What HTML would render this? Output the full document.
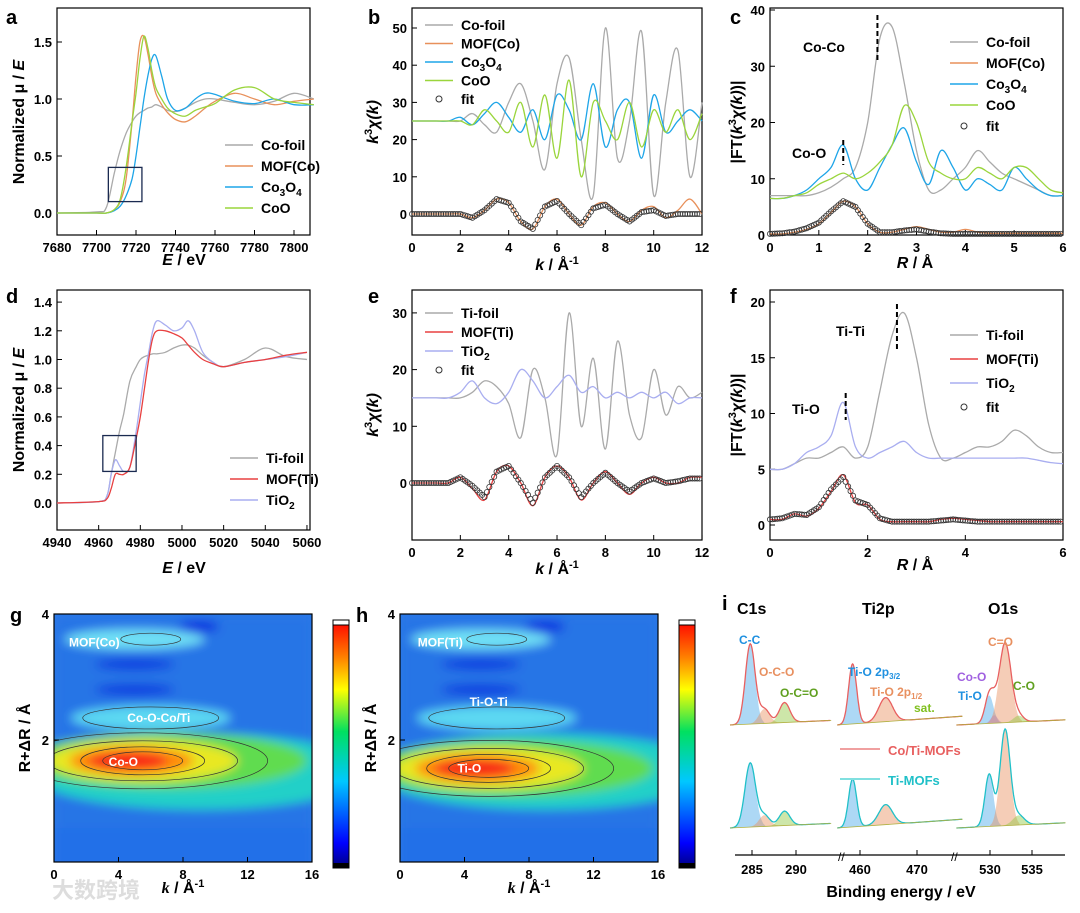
<!DOCTYPE html>
<html><head><meta charset="utf-8">
<style>
html,body{margin:0;padding:0;background:#fff;}
svg{display:block;font-family:"Liberation Sans","Noto Sans CJK SC",sans-serif;}
.pl{font-size:20px;font-weight:bold;}
.tk{font-size:13px;font-weight:bold;}
.al{font-size:16px;font-weight:bold;}
.lg{font-size:14px;font-weight:bold;}
</style></head>
<body>
<svg id="fig" width="1080" height="913" viewBox="0 0 1080 913">
<defs>
<linearGradient id="cbar" x1="0" y1="1" x2="0" y2="0">
<stop offset="0" stop-color="#000080"/><stop offset="0.1" stop-color="#0000ff"/><stop offset="0.35" stop-color="#00c8ff"/><stop offset="0.55" stop-color="#00e060"/><stop offset="0.72" stop-color="#ffff00"/><stop offset="0.85" stop-color="#ff8000"/><stop offset="1" stop-color="#ff0000"/>
</linearGradient>
<filter id="blur" x="-20%" y="-50%" width="140%" height="200%"><feGaussianBlur stdDeviation="5"/></filter>
<clipPath id="cg"><rect x="54" y="614" width="258" height="248"/></clipPath>
<clipPath id="ch"><rect x="400" y="614" width="258" height="248"/></clipPath>
</defs>
<g id="root"></g>
</svg>
<script>
// ---------------- data ----------------
const aE=[7680,7700,7705,7709,7712,7715,7718,7720,7722,7724,7726,7728,7730,7733,7736,7740,7745,7750,7755,7760,7770,7780,7790,7800,7810];
const aCoFoil=[0,0.01,0.05,0.35,0.55,0.7,0.8,0.85,0.88,0.9,0.92,0.93,0.95,0.93,0.9,0.89,0.92,0.97,1.0,1.0,0.97,0.95,0.98,1.05,1.0];
const aMOF=[0,0,0,0.03,0.1,0.3,0.8,1.2,1.5,1.55,1.4,1.2,1.05,0.95,0.88,0.82,0.8,0.85,0.92,0.98,1.05,1.0,0.95,0.98,1.0];
const aCo3O4=[0,0,0,0.02,0.06,0.15,0.3,0.5,0.75,1.0,1.2,1.35,1.38,1.2,1.0,0.9,0.92,1.0,1.05,1.04,0.98,0.96,1.0,0.95,0.95];
const aCoO=[0,0,0,0.03,0.12,0.4,0.8,1.05,1.35,1.55,1.45,1.25,1.1,1.0,0.92,0.87,0.85,0.9,0.93,0.96,1.08,1.1,1.0,0.97,0.95];

const kGrid=[0,0.5,1,1.5,2,2.5,3,3.5,4,4.5,5,5.5,6,6.5,7,7.5,8,8.5,9,9.5,10,10.5,11,11.5,12];
const bCoFoil=[25,25,25,25,25,27,24,22,30,35,25,12,35,42,20,5,50,15,25,49,5,30,44,10,30];
const bCo3O4=[25,25,25,25,26,24,27,30,26,22,28,20,32,28,20,35,18,28,30,15,32,22,25,28,25];
const bCoO=[25,25,25,25,25,24,28,25,22,30,18,32,15,36,10,30,25,20,30,18,28,22,28,20,27];
const bMOF=[0,0,0,0,0,-1,1,4,3,-2,-4,2,4,0,-3,2,3,0,-2,1,2,-1,1,4,0];
const bFit=[0,0,0,0,0,-1,1,4,3,-2,-4,2,3.5,0,-3,1.5,2.5,0,-2,0.5,1,-0.5,0,0,0];

const rGrid=[0,0.25,0.5,0.75,1,1.25,1.5,1.75,2,2.25,2.5,2.75,3,3.25,3.5,3.75,4,4.25,4.5,4.75,5,5.25,5.5,5.75,6];
const cCoFoil=[7,7,7,7,7.5,8.5,10,12,20,35,37,27,15,8,8,10,12,15,13,11,10,9,8,7,7];
const cMOF=[0.2,0.2,0.5,1,2,4,6,5,2,0.5,0.5,1,1.5,1,0.5,0.5,1,0.5,0.3,0.3,0.3,0.3,0.3,0.3,0.3];
const cCo3O4=[6.5,6.5,7,8,10,12,16,10,8,12,16,19,13,9,15,12,8,10,9,8,12,10,8,7,7];
const cCoO=[6.5,6.5,7,7.5,9,10,11,10,11,13,16,23,20,13,11,10,10,12,11,10,12,12,10,8,7.5];
const cFit=[0.2,0.3,0.6,1.2,2.2,4.2,6,5,2,0.5,0.5,0.8,1,0.6,0.3,0.2,0.2,0.2,0.2,0.2,0.2,0.2,0.2,0.2,0.2];

const dE=[4940,4960,4964,4966,4968,4970,4972,4975,4978,4980,4982,4984,4986,4988,4992,4996,5000,5003,5006,5010,5015,5020,5030,5040,5050,5060];
const dTiFoil=[0,0.01,0.05,0.2,0.35,0.5,0.62,0.85,0.95,1.0,1.02,1.03,1.04,1.04,1.05,1.08,1.1,1.1,1.08,1.03,0.98,0.95,1.0,1.08,1.02,1.0];
const dMOF=[0,0.01,0.03,0.1,0.2,0.2,0.2,0.25,0.45,0.6,0.8,1.0,1.15,1.2,1.2,1.18,1.15,1.1,1.05,1.0,0.97,0.95,0.98,1.0,1.03,1.05];
const dTiO2=[0,0.01,0.05,0.2,0.3,0.26,0.22,0.25,0.5,0.7,0.9,1.05,1.2,1.27,1.24,1.2,1.22,1.27,1.2,1.05,0.98,0.95,0.98,1.0,1.02,1.05];

const eTiFoil=[15,15,15,15,15,16,18,17,14,8,20,15,5,30,10,22,6,25,12,8,20,12,17,15,16];
const eTiO2=[15,15,15,15,16,18,15,14,16,20,18,15,17,19,16,17,15,16,15,16,15,16,14,15,15];
const eMOF=[0,0,0,0,1,-1,-3,2,3,0,-4,1,3,1,-3,0,2,0,-2,0,1,0,0,1,1];
const eFit=[0,0,0,0,1,-0.5,-2.5,2,3,0,-3.5,1,3,1,-2.5,0,1.8,0,-1.5,0,0.8,0,0.3,0.8,0.8];

const fTiFoil=[5,5,5.5,6,6,6.5,7,6,7,12,17,19,15,9,6,6,6.5,7,7,7.5,8.5,8,7,6.5,6.5];
const fTiO2=[5,5,5.5,6.5,7,8,11,7,6,6.5,7,7.5,6.5,6,6,6,6,6,6,6,6,6,5.8,5.6,5.5];
const fMOF=[0.5,0.5,1,0.8,1.5,3,4.5,2,1.8,0.5,0.3,0.3,0.3,0.3,0.5,0.6,0.5,0.4,0.3,0.3,0.3,0.3,0.3,0.3,0.3];
const fFit=[0.5,0.6,1,0.9,1.6,3.2,4.3,2.2,1.8,0.6,0.3,0.3,0.3,0.3,0.4,0.5,0.4,0.3,0.3,0.3,0.3,0.3,0.3,0.3,0.3];

// XPS peaks: [center, height, width]
const xC1sTop=[[284.8,1,0.55],[286.4,0.18,0.6],[288.7,0.25,0.6]];
const xC1sBot=[[284.8,0.8,0.6],[286.4,0.14,0.6],[288.7,0.18,0.6]];
const xTiTop=[[458.7,0.75,0.7],[464.5,0.3,1.2]];
const xTiBot=[[458.7,0.6,0.7],[464.5,0.25,1.2]];
const xO1Top=[[529.9,0.35,0.5],[530.5,0.1,0.4],[531.8,1.0,0.7],[533.4,0.08,0.6]];
const xO1Bot=[[529.9,0.65,0.5],[531.8,1.2,0.6],[533.4,0.12,0.7]];

// ---------------- helpers ----------------
const NS='http://www.w3.org/2000/svg';
const root=document.getElementById('root');
function el(tag,attrs,parent){const e=document.createElementNS(NS,tag);for(const k in attrs)e.setAttribute(k,attrs[k]);(parent||root).appendChild(e);return e;}
function txt(x,y,s,cls,extra,parent){const t=el('text',Object.assign({x:x,y:y,class:cls||''},extra||{}),parent);t.innerHTML=s;return t;}
function smooth(pts){let d='M'+pts[0][0].toFixed(1)+','+pts[0][1].toFixed(1);
 for(let i=0;i<pts.length-1;i++){const p0=pts[i-1]||pts[i],p1=pts[i],p2=pts[i+1],p3=pts[i+2]||p2;
  const c1=[p1[0]+(p2[0]-p0[0])/6,p1[1]+(p2[1]-p0[1])/6],c2=[p2[0]-(p3[0]-p1[0])/6,p2[1]-(p3[1]-p1[1])/6];
  d+=' C'+c1.map(v=>v.toFixed(1)).join(',')+' '+c2.map(v=>v.toFixed(1)).join(',')+' '+p2[0].toFixed(1)+','+p2[1].toFixed(1);}
 return d;}
function axes(name,fr,xs,ys,xt,yt,xfmt,yfmt){
 const g=el('g',{});
 
 
 el('rect',{x:fr[0],y:fr[1],width:fr[2]-fr[0],height:fr[3]-fr[1],fill:'none',stroke:'#000','stroke-width':1.2},g);
 xt.forEach(v=>{const x=xs(v);el('line',{x1:x,x2:x,y1:fr[3],y2:fr[3]-5,stroke:'#000'},g);
  const t=txt(x,fr[3]+17,xfmt(v),'tk',{'text-anchor':'middle'},g);});
 yt.forEach(v=>{const y=ys(v);el('line',{x1:fr[0],x2:fr[0]+5,y1:y,y2:y,stroke:'#000'},g);
  const t=txt(fr[0]-5,y+5,yfmt(v),'tk',{'text-anchor':'end'},g);});
 return g;}
function line(name,X,Y,xs,ys,color,w){const p=el('path',{d:smooth(X.map((x,i)=>[xs(x),ys(Y[i])])),fill:'none',stroke:color,'stroke-width':w||1.3});
 
 return p;}
function circles(name,X,Y,xs,ys){const g=el('g',{});
 
 
 for(let i=0;i<X.length-1;i++)for(let s=0;s<5;s++){const f=s/5,x=X[i]+(X[i+1]-X[i])*f,y=Y[i]+(Y[i+1]-Y[i])*f;
  el('circle',{cx:xs(x),cy:ys(y),r:2.6,fill:'none',stroke:'#333','stroke-width':0.8},g);}
 return g;}
function legend(x,y,items,dy){items.forEach((it,i)=>{const yy=y+i*dy;
 const g=el('g',{});
 if(it[1]==='o')el('circle',{cx:x+14,cy:yy-5,r:3,fill:'none',stroke:'#333'},g);else el('line',{x1:x,x2:x+28,y1:yy-5,y2:yy-5,stroke:it[1],'stroke-width':1.5},g);
 txt(x+36,yy,it[0],'lg',{},g);});}
const gray='#aaaaaa',orange='#e8905a',blue='#1ea5e8',green='#9ad53c',red='#e84040',lav='#a9aef0';

// ---------------- panel a ----------------
{const xs=v=>57+(v-7680)*237/120, ys=v=>213-v*114;
 axes('panel-a',[57,8,310,235],xs,ys,[7680,7700,7720,7740,7760,7780,7800],[0,0.5,1.0,1.5],v=>v,v=>v.toFixed(1));
 line('co-foil-xanes',aE,aCoFoil,xs,ys,gray);line('mof-co-xanes',aE,aMOF,xs,ys,orange);line('co3o4-xanes',aE,aCo3O4,xs,ys,blue);line('coo-xanes',aE,aCoO,xs,ys,green);
 el('rect',{x:xs(7706),y:ys(0.4),width:xs(7723)-xs(7706),height:ys(0.1)-ys(0.4),fill:'none',stroke:'#1a2a50','stroke-width':1.3});
 legend(225,150,[['Co-foil',gray],['MOF(Co)',orange],['Co<tspan dy="4" font-size="10">3</tspan><tspan dy="-4">O</tspan><tspan dy="4" font-size="10">4</tspan>',blue],['CoO',green]],21);
 txt(6,24,'a','pl');txt(184,265,'<tspan font-style="italic">E</tspan> / eV','al',{'text-anchor':'middle'});
 txt(24,122,'Normalized μ / <tspan font-style="italic">E</tspan>','al',{'text-anchor':'middle',transform:'rotate(-90 24 122)'});}
// ---------------- panel b ----------------
{const xs=v=>412+v*24.17, ys=v=>214-v*3.72;
 axes('panel-b',[412,8,702,235],xs,ys,[0,2,4,6,8,10,12],[0,10,20,30,40,50],v=>v,v=>v);
 line('co-foil-exafs',kGrid,bCoFoil,xs,ys,gray);line('co3o4-exafs',kGrid,bCo3O4,xs,ys,blue);line('coo-exafs',kGrid,bCoO,xs,ys,green);
 line('mof-co-exafs',kGrid,bMOF,xs,ys,orange);circles('fit-b',kGrid,bFit,xs,ys);
 legend(425,30,[['Co-foil',gray],['MOF(Co)',orange],['Co<tspan dy="4" font-size="10">3</tspan><tspan dy="-4">O</tspan><tspan dy="4" font-size="10">4</tspan>',blue],['CoO',green],['fit','o']],18.5);
 txt(368,24,'b','pl');txt(557,270,'<tspan font-style="italic">k</tspan> / Å<tspan dy="-6" font-size="11">-1</tspan>','al',{'text-anchor':'middle'});
 txt(378,122,'<tspan font-style="italic">k</tspan><tspan dy="-6" font-size="11">3</tspan><tspan dy="6" font-style="italic">χ(k)</tspan>','al',{'text-anchor':'middle',transform:'rotate(-90 378 122)'});}
// ---------------- panel c ----------------
{const xs=v=>770+v*48.83, ys=v=>235-v*5.625;
 axes('panel-c',[770,8,1063,235],xs,ys,[0,1,2,3,4,5,6],[0,10,20,30,40],v=>v,v=>v);
 line('co-foil-ft',rGrid,cCoFoil,xs,ys,gray);line('co3o4-ft',rGrid,cCo3O4,xs,ys,blue);line('coo-ft',rGrid,cCoO,xs,ys,green);
 line('mof-co-ft',rGrid,cMOF,xs,ys,orange);circles('fit-c',rGrid,cFit,xs,ys);
 el('line',{x1:xs(2.2),x2:xs(2.2),y1:15,y2:62,stroke:'#000','stroke-width':2,'stroke-dasharray':'5,3'});
 el('line',{x1:xs(1.5),x2:xs(1.5),y1:140,y2:165,stroke:'#000','stroke-width':2,'stroke-dasharray':'5,3'});
 txt(803,52,'Co-Co','lg',{'font-size':'16'});txt(792,158,'Co-O','lg',{'font-size':'16'});
 legend(950,47,[['Co-foil',gray],['MOF(Co)',orange],['Co<tspan dy="4" font-size="10">3</tspan><tspan dy="-4">O</tspan><tspan dy="4" font-size="10">4</tspan>',blue],['CoO',green],['fit','o']],21);
 txt(730,24,'c','pl');txt(915,268,'<tspan font-style="italic">R</tspan> / Å','al',{'text-anchor':'middle'});
 txt(742,122,'|FT(<tspan font-style="italic">k</tspan><tspan dy="-6" font-size="11">3</tspan><tspan dy="6" font-style="italic">χ(k)</tspan>)|','al',{'text-anchor':'middle',transform:'rotate(-90 742 122)'});}
// ---------------- panel d ----------------
{const xs=v=>57+(v-4940)*2.083, ys=v=>503-v*143.5;
 axes('panel-d',[57,290,310,530],xs,ys,[4940,4960,4980,5000,5020,5040,5060],[0,0.2,0.4,0.6,0.8,1.0,1.2,1.4],v=>v,v=>v.toFixed(1));
 line('ti-foil-xanes',dE,dTiFoil,xs,ys,gray);line('tio2-xanes',dE,dTiO2,xs,ys,lav);line('mof-ti-xanes',dE,dMOF,xs,ys,red);
 el('rect',{x:xs(4962),y:ys(0.47),width:xs(4978)-xs(4962),height:ys(0.22)-ys(0.47),fill:'none',stroke:'#1a2a50','stroke-width':1.3});
 legend(230,463,[['Ti-foil',gray],['MOF(Ti)',red],['TiO<tspan dy="4" font-size="10">2</tspan>',lav]],21);
 txt(6,303,'d','pl');txt(184,573,'<tspan font-style="italic">E</tspan> / eV','al',{'text-anchor':'middle'});
 txt(24,410,'Normalized μ / <tspan font-style="italic">E</tspan>','al',{'text-anchor':'middle',transform:'rotate(-90 24 410)'});}
// ---------------- panel e ----------------
{const xs=v=>412+v*24.17, ys=v=>483-v*5.67;
 axes('panel-e',[412,290,702,540],xs,ys,[0,2,4,6,8,10,12],[0,10,20,30],v=>v,v=>v);
 line('ti-foil-exafs',kGrid,eTiFoil,xs,ys,gray);line('tio2-exafs',kGrid,eTiO2,xs,ys,lav);
 line('mof-ti-exafs',kGrid,eMOF,xs,ys,red);circles('fit-e',kGrid,eFit,xs,ys);
 legend(425,318,[['Ti-foil',gray],['MOF(Ti)',red],['TiO<tspan dy="4" font-size="10">2</tspan>',lav],['fit','o']],19);
 txt(368,303,'e','pl');txt(557,574,'<tspan font-style="italic">k</tspan> / Å<tspan dy="-6" font-size="11">-1</tspan>','al',{'text-anchor':'middle'});
 txt(378,415,'<tspan font-style="italic">k</tspan><tspan dy="-6" font-size="11">3</tspan><tspan dy="6" font-style="italic">χ(k)</tspan>','al',{'text-anchor':'middle',transform:'rotate(-90 378 415)'});}
// ---------------- panel f ----------------
{const xs=v=>770+v*48.83, ys=v=>525-v*11.15;
 axes('panel-f',[770,290,1063,540],xs,ys,[0,2,4,6],[0,5,10,15,20],v=>v,v=>v);
 line('ti-foil-ft',rGrid,fTiFoil,xs,ys,gray);line('tio2-ft',rGrid,fTiO2,xs,ys,lav);
 line('mof-ti-ft',rGrid,fMOF,xs,ys,red);circles('fit-f',rGrid,fFit,xs,ys);
 el('line',{x1:xs(2.6),x2:xs(2.6),y1:304,y2:350,stroke:'#000','stroke-width':2,'stroke-dasharray':'5,3'});
 el('line',{x1:xs(1.55),x2:xs(1.55),y1:393,y2:420,stroke:'#000','stroke-width':2,'stroke-dasharray':'5,3'});
 txt(836,336,'Ti-Ti','lg',{'font-size':'16'});txt(792,414,'Ti-O','lg',{'font-size':'16'});
 legend(950,340,[['Ti-foil',gray],['MOF(Ti)',red],['TiO<tspan dy="4" font-size="10">2</tspan>',lav],['fit','o']],24);
 txt(730,303,'f','pl');txt(915,570,'<tspan font-style="italic">R</tspan> / Å','al',{'text-anchor':'middle'});
 txt(742,415,'|FT(<tspan font-style="italic">k</tspan><tspan dy="-6" font-size="11">3</tspan><tspan dy="6" font-style="italic">χ(k)</tspan>)|','al',{'text-anchor':'middle',transform:'rotate(-90 742 415)'});}
// ---------------- wavelet panels ----------------
function wavelet(name,x0,letter,labels,clip,peakR){
 const xs=v=>x0+v*258/16, ys=v=>614+(4-v)*63;
 const g=el('g',{'clip-path':'url(#'+clip+')'});
 
 
 el('rect',{x:x0,y:614,width:258,height:248,fill:'#2a7ae8'},g);
 const gb=el('g',{filter:'url(#blur)'},g);
 el('rect',{x:x0,y:614,width:258,height:248,fill:'#2874e6'},gb);
 el('ellipse',{cx:xs(5),cy:ys(3.6),rx:70,ry:10,fill:'#6fe0f5'},gb);
 el('ellipse',{cx:xs(9),cy:ys(3.8),rx:20,ry:6,fill:'#0a30e0'},gb);
 el('ellipse',{cx:xs(5),cy:ys(3.2),rx:40,ry:6,fill:'#1040e0'},gb);
 el('ellipse',{cx:xs(5),cy:ys(2.8),rx:40,ry:6,fill:'#1040e0'},gb);
 el('ellipse',{cx:xs(6),cy:ys(2.35),rx:80,ry:12,fill:'#5cd8f2'},gb);
 el('ellipse',{cx:xs(9),cy:ys(1.5),rx:170,ry:38,fill:'#20d0c8'},gb);
 el('ellipse',{cx:xs(7),cy:ys(peakR),rx:140,ry:28,fill:'#60dc50'},gb);
 el('ellipse',{cx:xs(5.5),cy:ys(peakR),rx:95,ry:21,fill:'#e8e820'},gb);
 el('ellipse',{cx:xs(4.8),cy:ys(peakR),rx:62,ry:14,fill:'#ff8a10'},gb);
 el('ellipse',{cx:xs(4.6),cy:ys(peakR),rx:40,ry:9,fill:'#f82818'},gb);
 el('rect',{x:x0,y:ys(0.6),width:258,height:60,fill:'#2070e8'},gb);
 [[125,28],[95,20],[62,14],[40,9]].forEach(r=>el('ellipse',{cx:xs(5.5),cy:ys(peakR),rx:r[0],ry:r[1],fill:'none',stroke:'#333','stroke-width':0.7},g));
 el('ellipse',{cx:xs(6),cy:ys(2.35),rx:68,ry:11,fill:'none',stroke:'#333','stroke-width':0.7},g);
 el('ellipse',{cx:xs(6),cy:ys(3.6),rx:30,ry:6,fill:'none',stroke:'#333','stroke-width':0.7},g);
 labels.forEach(l=>txt(xs(l[1]),ys(l[2])+4,l[0],'',{'font-size':'12','font-weight':'bold',fill:'#fff','text-anchor':'middle'},g));
 axes(name,[x0,614,x0+258,862],xs,ys,[0,4,8,12,16],[2,4],v=>v,v=>v);
 const cb=el('g',{});
 el('rect',{x:x0+279,y:620,width:16,height:248,fill:'url(#cbar)',stroke:'#000'},cb);
 el('rect',{x:x0+279,y:620,width:16,height:5,fill:'#fff',stroke:'#000'},cb);
 el('rect',{x:x0+279,y:863,width:16,height:5,fill:'#000'},cb);
 txt(x0-44,622,letter,'pl');
 txt(x0+129,893,'<tspan font-style="italic" font-family="Liberation Serif">k</tspan> / Å<tspan dy="-6" font-size="11">-1</tspan>','al',{'text-anchor':'middle'});
 txt(x0-24,738,'R+ΔR / Å','al',{'text-anchor':'middle',transform:'rotate(-90 '+(x0-24)+' 738)'});}
wavelet('panel-g',54,'g',[['MOF(Co)',2.5,3.55],['Co-O-Co/Ti',6.5,2.35],['Co-O',4.3,1.65]],'cg',1.67);
wavelet('panel-h',400,'h',[['MOF(Ti)',2.5,3.55],['Ti-O-Ti',5.5,2.6],['Ti-O',4.3,1.55]],'ch',1.55);
// ---------------- panel i (XPS) ----------------
{const regions=[{n:'c1s',x0:752,s:8.8,c0:285,lo:282.5,hi:294,top:xC1sTop,bot:xC1sBot},
  {n:'ti2p',x0:860,s:5.7,c0:460,lo:456,hi:478,top:xTiTop,bot:xTiBot},
  {n:'o1s',x0:990,s:8.4,c0:530,lo:526,hi:539,top:xO1Top,bot:xO1Bot}];
 const fill=['#4aa8e8','#e89060','#90c840','#b080e0'];
 regions.forEach(r=>{const xs=v=>r.x0+(v-r.c0)*r.s;
  [[r.top,725,'#e86060',80],[r.bot,828,'#20c0c8',80]].forEach(([pk,base,col,H])=>{
   const xsam=[];for(let v=r.lo;v<=r.hi;v+=0.1)xsam.push(v);
   const bl=v=>base-(v-r.lo)*0.4;
   pk.forEach((p,i)=>{const pts=xsam.filter(v=>Math.abs(v-p[0])<3*p[2]);
    let d='M'+xs(pts[0])+','+bl(pts[0]);pts.forEach(v=>{d+=' L'+xs(v).toFixed(1)+','+(bl(v)-H*p[1]*Math.exp(-((v-p[0])**2)/(2*p[2]*p[2]))).toFixed(1);});
    d+=' L'+xs(pts[pts.length-1])+','+bl(pts[pts.length-1])+' Z';
    let ci=i;if(r.n==='o1s'){ci=pk.length===4?[0,3,1,2][i]:[0,1,2][i];}
    const f=el('path',{d:d,fill:fill[ci],'fill-opacity':0.45,stroke:'none'});
    });
   const pts=xsam.map(v=>[xs(v),bl(v)-H*pk.reduce((s,p)=>s+p[1]*Math.exp(-((v-p[0])**2)/(2*p[2]*p[2])),0)]);
   const p=el('path',{d:'M'+pts.map(q=>q[0].toFixed(1)+','+q[1].toFixed(1)).join(' L'),fill:'none',stroke:col,'stroke-width':1.3});
   
   el('line',{x1:xs(r.lo),x2:xs(r.hi),y1:bl(r.lo),y2:bl(r.hi),stroke:'#b0b040','stroke-width':0.8});});});
 const ax=el('g',{});
 el('line',{x1:735,x2:1065,y1:855,y2:855,stroke:'#000','stroke-width':1.2},ax);
 [[752,'285'],[796,'290'],[860,'460'],[917,'470'],[990,'530'],[1032,'535']].forEach(t=>{el('line',{x1:t[0],x2:t[0],y1:855,y2:850,stroke:'#000'},ax);txt(t[0],874,t[1],'tk',{'text-anchor':'middle','font-size':'15'},ax);});
 txt(838,861,'//','',{'font-size':'12'});txt(951,861,'//','',{'font-size':'12'});
 txt(901,897,'Binding energy / eV','al',{'text-anchor':'middle'});
 txt(722,610,'i','pl');
 txt(737,614,'C1s','al',{'font-size':'17'});txt(862,614,'Ti2p','al',{'font-size':'17'});txt(988,614,'O1s','al',{'font-size':'17'});
 const L=(x,y,s,c)=>txt(x,y,s,'',{'font-size':'12','font-weight':'bold',fill:c});
 L(739,644,'C-C','#1e90e0');L(759,676,'O-C-O','#e89060');L(780,697,'O-C=O','#60a020');
 L(848,676,'Ti-O 2p<tspan dy="3" font-size="8">3/2</tspan>','#1e90e0');L(870,696,'Ti-O 2p<tspan dy="3" font-size="8">1/2</tspan>','#e89060');L(914,712,'sat.','#80c020');
 L(988,646,'C=O','#e89060');L(957,681,'Co-O','#a060e0');L(958,700,'Ti-O','#1e90e0');L(1013,690,'C-O','#60a020');
 el('line',{x1:840,x2:880,y1:749,y2:749,stroke:'#f0a0a0','stroke-width':2});txt(888,755,'Co/Ti-MOFs','',{'font-size':'13','font-weight':'bold',fill:'#e86060'});
 el('line',{x1:840,x2:880,y1:779,y2:779,stroke:'#80e0e0','stroke-width':2});txt(888,785,'Ti-MOFs','',{'font-size':'13','font-weight':'bold',fill:'#20c0c8'});}
// watermark
{const w=txt(52,898,'大数跨境','',{'font-size':'22','font-weight':'bold',fill:'#dddddd'});
 }
</script>
</body></html>
